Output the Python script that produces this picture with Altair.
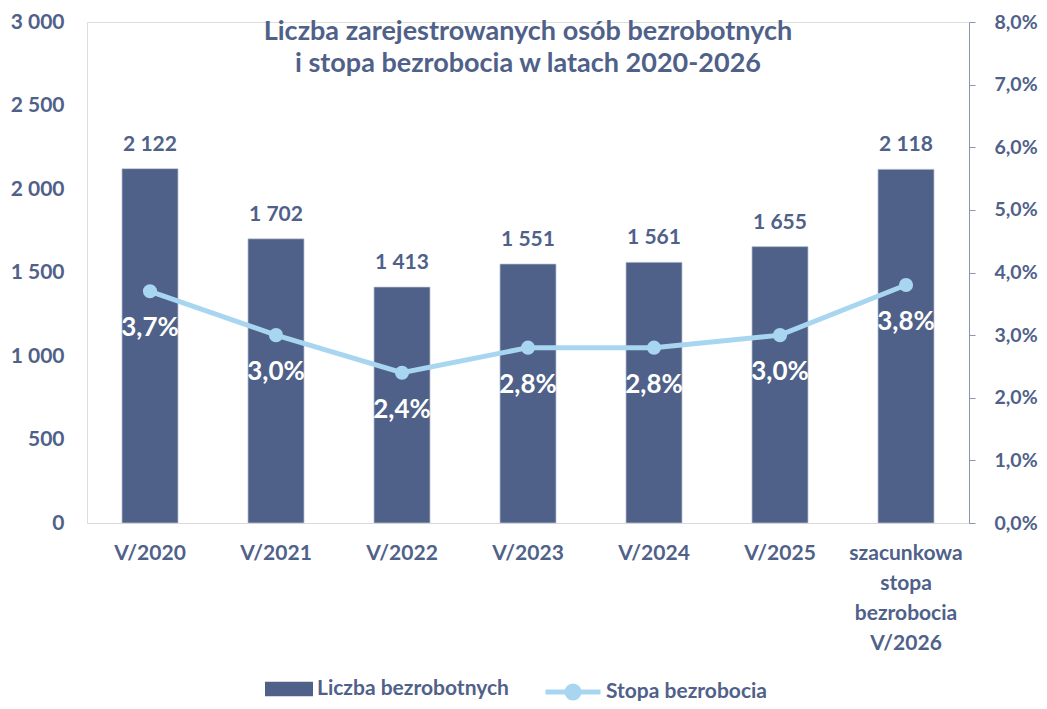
import altair as alt
import pandas as pd

categories = ["V/2020", "V/2021", "V/2022", "V/2023", "V/2024", "V/2025",
              "szacunkowa stopa bezrobocia V/2026"]
counts = [2122, 1702, 1413, 1551, 1561, 1655, 2118]
rates = [3.7, 3.0, 2.4, 2.8, 2.8, 3.0, 3.8]
bar_series = "Liczba bezrobotnych"
line_series = "Stopa bezrobocia"
title_lines = ["Liczba zarejestrowanych osób bezrobotnych",
               "i stopa bezrobocia w latach 2020-2026"]

df = pd.DataFrame({"cat": categories, "count": counts, "rate": rates,
                   "s1": bar_series, "s2": line_series})

FONT = "Lato"
TXT = "#4F6189"
BAR = "#4F6189"
LINE = "#A8D6F1"
FS = 21

x = alt.X("cat:N", sort=categories, title=None,
          scale=alt.Scale(paddingInner=0.555, paddingOuter=0.2775),
          axis=alt.Axis(labelAngle=0, ticks=False, domainColor="#D9D9D9",
                        labelExpr="split(datum.label, ' ')", labelLineHeight=30,
                        labelFontSize=FS, labelFont=FONT, labelFontWeight="bold",
                        labelColor=TXT, labelPadding=19))

base = alt.Chart(df).encode(x=x)

y_left = alt.Y("count:Q", title=None,
               scale=alt.Scale(domain=[0, 3000]),
               axis=alt.Axis(values=[0, 500, 1000, 1500, 2000, 2500, 3000],
                             labelExpr="replace(format(datum.value, ','), ',', ' ')",
                             domain=False, ticks=False, grid=False,
                             labelFontSize=FS, labelFont=FONT, labelFontWeight="bold",
                             labelColor=TXT, labelPadding=23))

legend_common = dict(title=None, orient="none", labelFontSize=FS, labelFont=FONT,
                     labelFontWeight="bold", labelColor=TXT, labelLimit=400)

bars = base.mark_bar(stroke="#C5CCDA", strokeWidth=0.7).encode(
    y=y_left,
    color=alt.Color("s1:N", scale=alt.Scale(domain=[bar_series], range=[BAR]),
                    legend=alt.Legend(legendX=178, legendY=643,
                                      symbolType="M-1,-0.3H1V0.3H-1Z", symbolSize=2304,
                                      symbolStrokeWidth=0, labelOffset=4, **legend_common)),
)

bar_text = base.transform_calculate(
    lbl="replace(format(datum.count, ','), ',', ' ')"
).mark_text(dy=-24, fontSize=FS, font=FONT, fontWeight="bold", color=TXT).encode(
    y=alt.Y("count:Q", title=None),
    text="lbl:N",
)

left = alt.layer(bars, bar_text)

y_right = alt.Y("rate:Q", title=None,
                scale=alt.Scale(domain=[0, 8]),
                axis=alt.Axis(orient="right", values=[0, 1, 2, 3, 4, 5, 6, 7, 8],
                              labelExpr="replace(format(datum.value, '.1f'), '.', ',') + '%'",
                              domainColor="#8796B2", tickColor="#8796B2", tickSize=6,
                              grid=False, labelFontSize=19.5, labelFont=FONT,
                              labelFontWeight="bold", labelColor=TXT, labelPadding=19))

line = base.mark_line(strokeWidth=5).encode(
    y=y_right,
    stroke=alt.Stroke("s2:N", scale=alt.Scale(domain=[line_series], range=[LINE]),
                      legend=alt.Legend(legendX=456, legendY=640,
                                        symbolType="M-1,0H1M-0.22,0A0.22,0.22 0 1,0 0.22,0A0.22,0.22 0 1,0 -0.22,0",
                                        symbolSize=3025, symbolStrokeWidth=5,
                                        symbolFillColor=LINE, labelOffset=3, **legend_common)),
)
points = base.mark_circle(size=200, opacity=1, color=LINE).encode(
    y=alt.Y("rate:Q", title=None))
rate_text = base.transform_calculate(
    lbl="replace(format(datum.rate, '.1f'), '.', ',') + '%'"
).mark_text(dy=37, fontSize=26, font=FONT, fontWeight="bold", color="white").encode(
    y=alt.Y("rate:Q", title=None),
    text="lbl:N",
)

right = alt.layer(line, points, rate_text)

chart = alt.layer(left, right).resolve_scale(y="independent").properties(
    width=882, height=501,
    title=alt.TitleParams(text=title_lines, fontSize=27, font=FONT, fontWeight="bold",
                          color=TXT, lineHeight=32, anchor="middle", offset=-67),
    autosize=alt.AutoSizeParams(type="none"),
    padding={"left": 79, "top": 14, "right": 70, "bottom": 178},
).configure_view(strokeWidth=0).configure(background="white")

chart.save("out.html", embed_options={"renderer": "svg", "actions": False})
